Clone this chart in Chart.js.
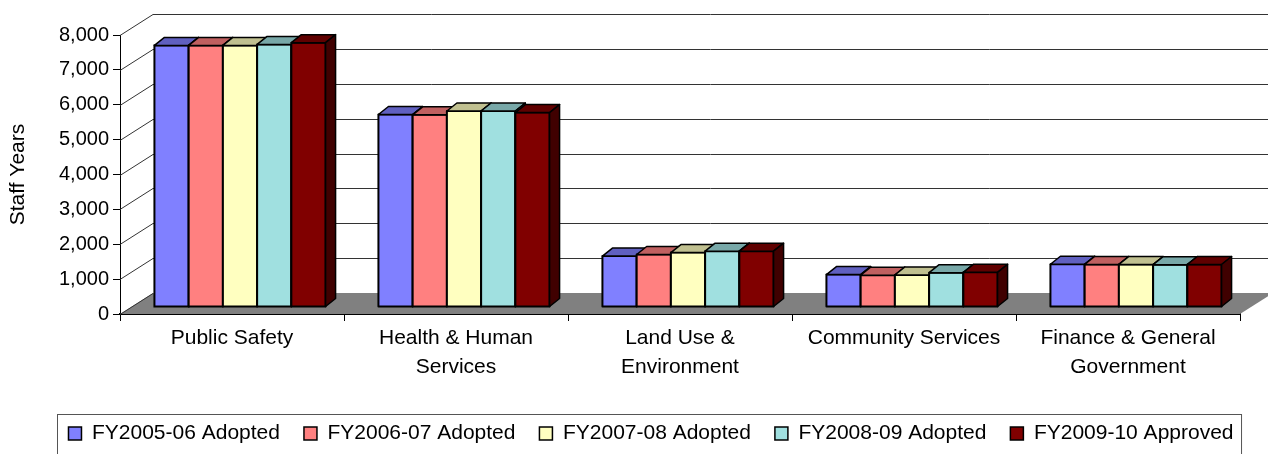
<!DOCTYPE html>
<html><head><meta charset="utf-8">
<script src="https://cdn.jsdelivr.net/npm/chart.js@4.4.0/dist/chart.umd.min.js"></script>
<style>html,body{margin:0;padding:0;background:#fff;overflow:hidden}#wrap{width:1268px;height:454px}</style>
</head><body><div id="wrap"><canvas id="c" width="1268" height="454"></canvas></div>
<script>
const categories = [['Public Safety'], ['Health & Human', 'Services'], ['Land Use &', 'Environment'], ['Community Services'], ['Finance & General', 'Government']];
const seriesNames = ['FY2005-06 Adopted', 'FY2006-07 Adopted', 'FY2007-08 Adopted', 'FY2008-09 Adopted', 'FY2009-10 Approved'];
const fy0506 = [7500, 5520, 1460, 930, 1225];
const fy0607 = [7500, 5510, 1505, 910, 1220];
const fy0708 = [7500, 5620, 1560, 920, 1218];
const fy0809 = [7530, 5620, 1600, 985, 1215];
const fy0910 = [7580, 5575, 1600, 995, 1218];
const yTicks = [0, 1000, 2000, 3000, 4000, 5000, 6000, 7000, 8000];
const yTitle = 'Staff Years';

const frontColors = ['#8080FF', '#FF8080', '#FFFFC0', '#A0E0E0', '#800000'];
const topColors = ['#6060C0', '#C06060', '#C0C090', '#78A8A8', '#600000'];
const sideColors = ['#404080', '#804040', '#808060', '#507070', '#400000'];
const FONT = 'Liberation Sans, Arial, sans-serif';
const D = {wx: 33, wy: -21, bx: 8, by: -7, tx: 10, ty: -8};
const LEGEND_SHIFT = 30;

function poly(ctx, pts, fill) {
  ctx.beginPath();
  ctx.moveTo(pts[0][0], pts[0][1]);
  for (let k = 1; k < pts.length; k++) ctx.lineTo(pts[k][0], pts[k][1]);
  ctx.closePath();
  ctx.fillStyle = fill; ctx.fill();
  ctx.lineWidth = 1.5; ctx.strokeStyle = '#000'; ctx.lineJoin = 'round'; ctx.stroke();
}

const threeD = {
  id: 'threeD',
  beforeDraw(chart) {
    const lg = chart.legend;
    if (lg) { lg.left += LEGEND_SHIFT; lg.right += LEGEND_SHIFT; }
  },
  beforeDatasetsDraw(chart) {
    const {ctx, chartArea: a, scales: {y}} = chart;
    ctx.save();
    const y0 = y.getPixelForValue(0);
    ctx.fillStyle = '#808080';
    ctx.beginPath();
    ctx.moveTo(a.left, y0); ctx.lineTo(a.right, y0);
    ctx.lineTo(a.right + D.wx, y0 + D.wy); ctx.lineTo(a.left + D.wx, y0 + D.wy);
    ctx.closePath(); ctx.fill();
    ctx.strokeStyle = '#333'; ctx.lineWidth = 1;
    yTicks.forEach(v => {
      const py = Math.round(y.getPixelForValue(v)) + 0.5;
      ctx.beginPath();
      ctx.moveTo(a.left, py);
      ctx.lineTo(a.left + D.wx, py + D.wy);
      if (v > 0) ctx.lineTo(chart.width, py + D.wy);
      ctx.stroke();
    });
    ctx.restore();
    ctx.save();
    ctx.translate(D.bx, D.by);
  },
  afterDatasetsDraw(chart) {
    const ctx = chart.ctx;
    const metas = chart.data.datasets.map((d, i) => chart.getDatasetMeta(i));
    for (let j = 0; j < categories.length; j++) {
      for (let i = 0; i < metas.length; i++) {
        const el = metas[i].data[j];
        el.draw(ctx);
        const p = el.getProps(['x', 'y', 'base', 'width'], true);
        const xl = p.x - p.width / 2, xr = p.x + p.width / 2;
        ctx.lineWidth = 2; ctx.strokeStyle = '#000';
        ctx.strokeRect(xl, p.y, p.width, p.base - p.y);
        poly(ctx, [[xl, p.y], [xr, p.y], [xr + D.tx, p.y + D.ty], [xl + D.tx, p.y + D.ty]], topColors[i]);
        poly(ctx, [[xr, p.y], [xr + D.tx, p.y + D.ty], [xr + D.tx, p.base + D.ty], [xr, p.base]], sideColors[i]);
      }
    }
    ctx.restore();
  },
  afterDraw(chart) {
    const lg = chart.legend;
    if (!lg || !lg.legendHitBoxes.length) return;
    const hb = lg.legendHitBoxes;
    const left = hb[0].left - 11 + LEGEND_SHIFT;
    const right = hb[hb.length - 1].left + hb[hb.length - 1].width + 8 + LEGEND_SHIFT;
    const top = hb[0].top - 9;
    const ctx = chart.ctx;
    ctx.save();
    ctx.strokeStyle = '#555'; ctx.lineWidth = 1;
    ctx.strokeRect(Math.round(left) + 0.5, Math.round(top) + 0.5, right - left, 60);
    ctx.restore();
  }
};

const seriesData = [fy0506, fy0607, fy0708, fy0809, fy0910];
new Chart(document.getElementById('c'), {
  type: 'bar',
  data: {
    labels: categories,
    datasets: seriesNames.map((name, i) => ({
      label: name,
      data: seriesData[i],
      backgroundColor: frontColors[i],
      borderColor: '#000',
      borderWidth: 0,
      categoryPercentage: 0.764,
      barPercentage: 1.0,
      clip: false
    }))
  },
  options: {
    responsive: false,
    animation: false,
    devicePixelRatio: 1,
    layout: {padding: {left: 2, right: 28, top: 35, bottom: 0}},
    scales: {
      x: {
        grid: {display: true, drawOnChartArea: false, offset: true, color: '#000', tickLength: 7},
        border: {display: true, color: '#000', width: 2},
        ticks: {color: '#000', font: {family: FONT, size: 21, lineHeight: 1.38}, padding: 3, maxRotation: 0, autoSkip: false},
        afterFit: s => { s.height = 85; }
      },
      y: {
        min: 0, max: 8000,
        afterBuildTicks: s => { s.ticks = yTicks.map(v => ({value: v})); },
        grid: {display: true, drawOnChartArea: false, color: '#000', tickLength: 7},
        border: {display: true, color: '#000', width: 1},
        ticks: {color: '#000', font: {family: FONT, size: 20}, padding: 4,
          callback: v => v.toLocaleString('en-US')},
        title: {display: true, text: yTitle, color: '#000', font: {family: FONT, size: 21}, padding: 4},
        afterFit: s => { s.width = 118; }
      }
    },
    plugins: {
      tooltip: {enabled: false},
      legend: {
        position: 'bottom',
        labels: {
          color: '#000', font: {family: FONT, size: 21}, boxWidth: 13, boxHeight: 13, padding: 24,
          generateLabels: chart => Chart.defaults.plugins.legend.labels.generateLabels(chart).map(l => Object.assign(l, {lineWidth: 1.5, strokeStyle: '#000'}))
        }
      }
    }
  },
  plugins: [threeD]
});
</script></body></html>
